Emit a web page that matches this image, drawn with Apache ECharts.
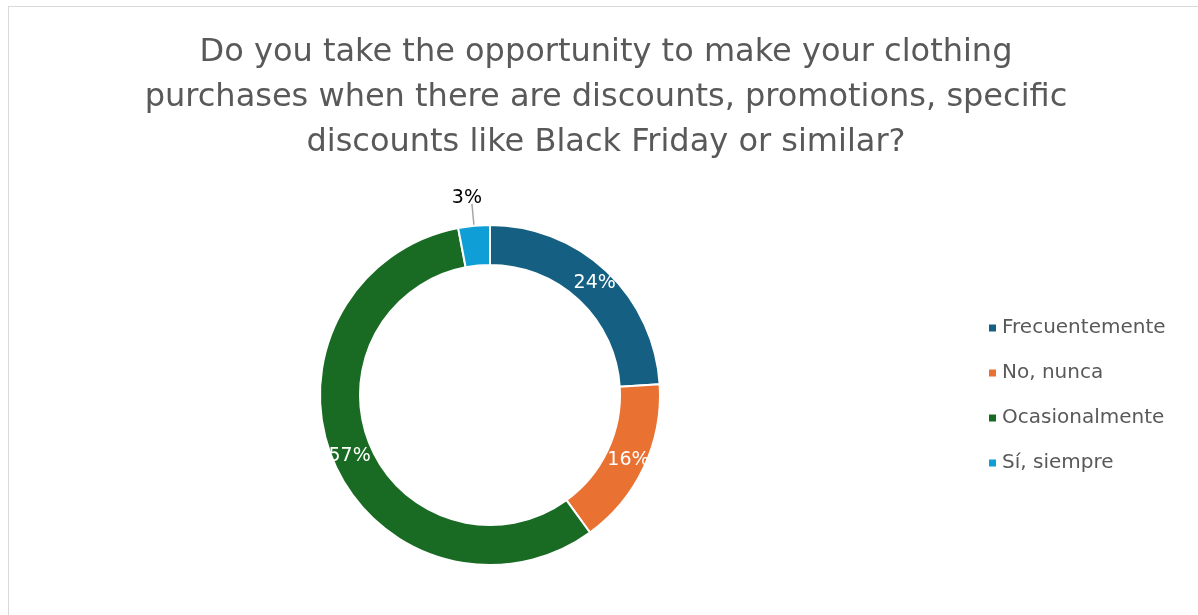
<!DOCTYPE html>
<html>
<head>
<meta charset="utf-8">
<script src="https://cdn.jsdelivr.net/npm/echarts@6/dist/echarts.min.js"></script>
<style>
  html, body { margin: 0; padding: 0; background: #fff; }
  #frame {
    position: absolute; left: 8px; top: 6px;
    width: 1200px; height: 620px;
    border: 1px solid #d9d9d9; box-sizing: border-box;
  }
  #chart { position: absolute; left: 0; top: 0; width: 1198px; height: 615px; }
</style>
</head>
<body>
<div id="frame"></div>
<div id="chart"></div>
<script>
// answers and share of respondents (%)
const categories = ["Frecuentemente", "No, nunca", "Ocasionalmente", "Sí, siempre"];
const values = [24, 16, 57, 3];
const colors = ["#156082", "#E97132", "#196B24", "#0F9ED5"];
const titleText = "Do you take the opportunity to make your clothing\npurchases when there are discounts, promotions, specific\ndiscounts like Black Friday or similar?";

const FONT = "DejaVu Sans, sans-serif";

const chart = echarts.init(document.getElementById("chart"));

const pieData = categories.map((name, i) => {
  const item = { name: name, value: values[i], itemStyle: { color: colors[i] } };
  // the small slice gets its label outside with a leader line
  if (values[i] < 5) {
    item.label = { position: "outside", color: "#000", fontSize: 19 };
    item.labelLine = { show: true, length: 22, length2: 0, lineStyle: { color: "#a6a6a6", width: 1.5 } };
  }
  return item;
});

chart.setOption({
  animation: false,
  title: {
    text: titleText,
    left: 601,
    top: 25,
    textAlign: "center",
    textStyle: {
      fontFamily: FONT,
      fontSize: 32,
      fontWeight: "normal",
      color: "#595959",
      lineHeight: 45,
      align: "center"
    }
  },
  legend: {
    orient: "vertical",
    left: 982,
    top: 313,
    icon: "rect",
    itemWidth: 9,
    itemHeight: 9,
    itemGap: 25,
    data: categories,
    textStyle: { fontFamily: FONT, fontSize: 20, color: "#595959" }
  },
  series: [
    {
      type: "pie",
      center: [490, 395],
      radius: [130, 170],
      startAngle: 90,
      clockwise: true,
      avoidLabelOverlap: false,
      itemStyle: { borderColor: "#fff", borderWidth: 2 },
      label: {
        show: true,
        position: "inside",
        formatter: "{c}%",
        fontFamily: FONT,
        fontSize: 19,
        color: "#fff"
      },
      labelLine: { show: false },
      labelLayout: function (params) {
        // lift the outside label so it sits centred above its leader line
        if (params.dataIndex === values.length - 1) {
          return { dx: params.labelRect.width / 2, dy: -6 };
        }
        return {};
      },
      emphasis: { disabled: true },
      data: pieData
    }
  ]
});
</script>
</body>
</html>
